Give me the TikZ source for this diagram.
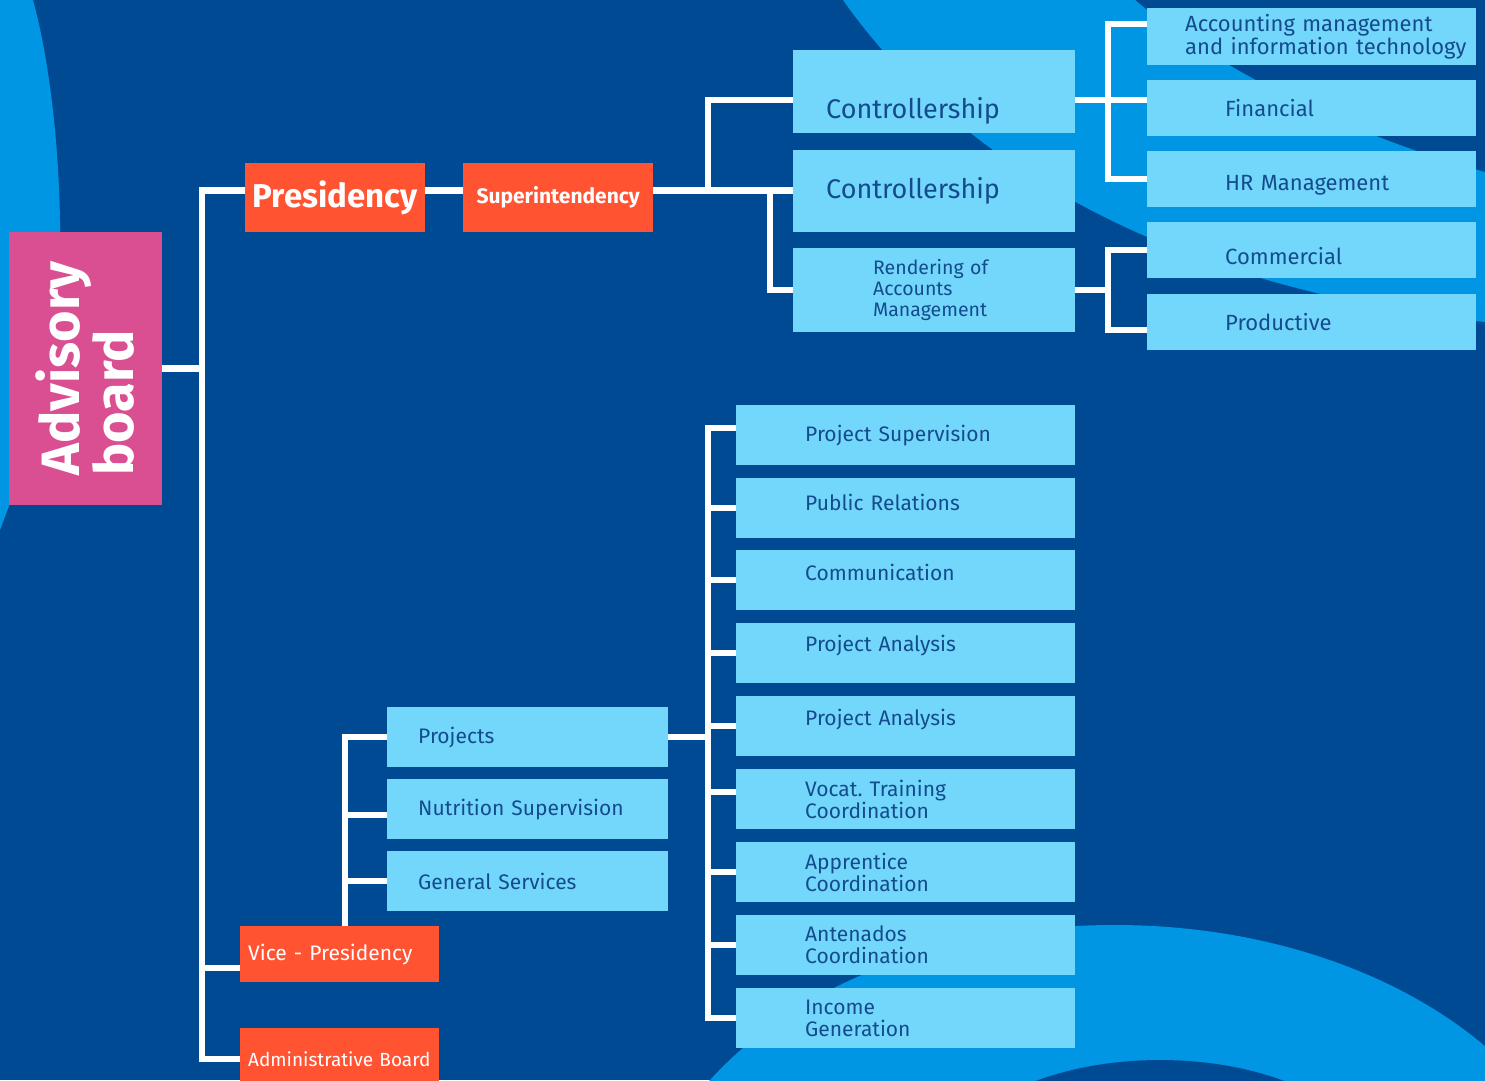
\documentclass[tikz,border=0pt]{standalone}
\usepackage{fontspec}
\setmainfont{Fira Sans}
\definecolor{bgd}{RGB}{0,74,147}
\definecolor{midb}{RGB}{0,150,228}
\definecolor{lboxc}{RGB}{115,215,252}
\definecolor{tblue}{RGB}{20,75,140}
\definecolor{orgc}{RGB}{255,83,50}
\definecolor{pinkc}{RGB}{217,79,146}
\begin{document}
\begin{tikzpicture}[x=1pt,y=-1pt,
  conn/.style={draw=white, line width=6.5pt},
  lb/.style={fill=lboxc, text=tblue, inner xsep=0pt, inner ysep=0pt, align=left, anchor=north west},
  ob/.style={fill=orgc, text=white, inner xsep=0pt, inner ysep=0pt, anchor=north west},
  midcol/.style={lb, text width=339pt, minimum height=60pt, font=\fontsize{21}{22}\selectfont},
  rcol/.style={lb, text width=329pt, minimum height=56pt, font=\fontsize{22}{21}\selectfont},
  lcol/.style={lb, text width=281pt, minimum height=60pt, font=\fontsize{21}{22}\selectfont},
  ccol/.style={lb, text width=282pt, font=\fontsize{27}{30}\selectfont},
  tpos/.style={text height=16pt, text depth=#1}
]
\useasboundingbox (0,0) rectangle (1485,1080);
\clip (0,0) rectangle (1485,1080);
% background
\fill[bgd] (0,0) rectangle (1485,1080);
\fill[midb] (0,0) -- (33,0) .. controls (52,70) and (62,170) .. (60,270)
  .. controls (58,370) and (30,450) .. (0,530) -- cycle;
\fill[midb] (843,0) .. controls (920,110) and (1100,280) .. (1485,322)
  -- (1485,172) .. controls (1330,130) and (1200,55) .. (1135,0) -- cycle;
\fill[midb] (1115,1250) ellipse [x radius=475pt, y radius=325pt];
\fill[bgd] (1160,1180) ellipse [x radius=220pt, y radius=120pt];

% nodes
\node[fill=pinkc, text=white, rotate=90, minimum width=273pt, minimum height=153pt,
  inner sep=0pt, align=left, font=\bfseries\fontsize{54}{50}\selectfont] (adv) at (85.5,368.5) {Advisory\\board};
\node[ob, minimum width=180pt, minimum height=69pt, font=\bfseries\fontsize{33}{36}\selectfont] (pres) at (245,163) {Presidency};
\node[ob, minimum width=190pt, minimum height=69pt, font=\bfseries\fontsize{21}{24}\selectfont] (sup) at (463,163) {Superintendency};
\node[ob, text width=199pt, align=left, minimum height=56pt, font=\fontsize{21}{24}\selectfont] (vice) at (240,926) {\hspace*{8pt}Vice - Presidency};
\node[ob, text width=199pt, align=left, minimum height=62pt, font=\fontsize{19}{22}\selectfont] (admin) at (240,1028) {\hspace*{8pt}Administrative Board};

\node[ccol, minimum height=83pt, text height=53pt, text depth=0pt] (c1) at (793,50) {\hspace*{33pt}Controllership};
\node[ccol, minimum height=82pt] (c2) at (793,150) {\hspace*{33pt}Controllership};
\node[lb, text width=282pt, minimum height=84pt, font=\fontsize{19.5}{21}\selectfont] (rend) at (793,248)
  {\hspace*{80pt}Rendering of\\\hspace*{80pt}Accounts\\\hspace*{80pt}Management};

\node[rcol, minimum height=57pt] (acc) at (1147,8) {\hspace*{38pt}Accounting management\\\hspace*{38pt}and information technology};
\node[rcol] (fin) at (1147,80) {\hspace*{78pt}Financial};
\node[rcol, text height=23pt, text depth=0pt] (hr) at (1147,151) {\hspace*{78pt}HR Management};
\node[rcol, text height=29pt, text depth=0pt] (com) at (1147,222) {\hspace*{78pt}Commercial};
\node[rcol] (prod) at (1147,294) {\hspace*{78pt}Productive};

\node[midcol] (ps) at (736,405) {\hspace*{69pt}Project Supervision};
\node[midcol, tpos=11pt] (pr) at (736,478) {\hspace*{69pt}Public Relations};
\node[midcol, tpos=15pt] (cm) at (736,550) {\hspace*{69pt}Communication};
\node[midcol, tpos=19pt] (pa1) at (736,623) {\hspace*{69pt}Project Analysis};
\node[midcol, tpos=17pt] (pa2) at (736,696) {\hspace*{69pt}Project Analysis};
\node[midcol] (vt) at (736,769) {\hspace*{69pt}Vocat.\ Training\\\hspace*{69pt}Coordination};
\node[midcol] (ap) at (736,842) {\hspace*{69pt}Apprentice\\\hspace*{69pt}Coordination};
\node[midcol] (an) at (736,915) {\hspace*{69pt}Antenados\\\hspace*{69pt}Coordination};
\node[midcol] (ig) at (736,988) {\hspace*{69pt}Income\\\hspace*{69pt}Generation};

\node[lcol] (proj) at (387,707) {\hspace*{31pt}Projects};
\node[lcol] (nut) at (387,779) {\hspace*{31pt}Nutrition Supervision};
\node[lcol] (gs) at (387,851) {\hspace*{31pt}General Services};

% bus coordinates
\coordinate (tx) at (202,0);
\coordinate (sx1) at (708,0);
\coordinate (sx2) at (770,0);
\coordinate (rx) at (1108,0);
\coordinate (mx) at (708,0);
\coordinate (vx) at (345,0);

% connectors
\draw[conn] (adv.south) -- (adv.south -| tx);
\draw[conn] ([yshift=7pt]pres.west) -- ([yshift=7pt]pres.west -| tx) -- (admin.west -| tx) -- (admin.west);
\draw[conn] ([yshift=-14pt]vice.west -| tx) -- ([yshift=-14pt]vice.west);
\draw[conn] ([yshift=7pt]pres.east) -- ([yshift=7pt]sup.west);
\draw[conn] ([yshift=7pt]sup.east) -- ([yshift=7pt]sup.east -| c2.west);
\draw[conn] ([yshift=7pt]sup.east -| sx1) |- ([yshift=-8.5pt]c1.west);
\draw[conn] ([yshift=7pt]sup.east -| sx2) |- (rend.west);
\draw[conn] ([yshift=-8.5pt]c1.east) -- ([yshift=-8.5pt]c1.east -| fin.west);
\draw[conn] ([yshift=12.5pt]acc.west) -| (hr.west -| rx) -- (hr.west);
\draw[conn] (rend.east) -- (rend.east -| rx);
\draw[conn] (com.west) -| ([yshift=-8pt]prod.west -| rx) -- ([yshift=-8pt]prod.west);
\draw[conn] (proj.east) -- (proj.east -| mx);
\draw[conn] ([yshift=7pt]ps.west) -| (ig.west -| mx) -- (ig.west);
\foreach \n in {pr,cm,pa1,pa2,ap,an} \draw[conn] (\n.west -| mx) -- (\n.west);
\draw[conn] ([yshift=7pt]vt.west -| mx) -- ([yshift=7pt]vt.west);
\draw[conn] (vice.north -| vx) |- (proj.west);
\draw[conn] ([yshift=-6pt]nut.west -| vx) -- ([yshift=-6pt]nut.west);
\draw[conn] (gs.west -| vx) -- (gs.west);
\end{tikzpicture}
\end{document}
